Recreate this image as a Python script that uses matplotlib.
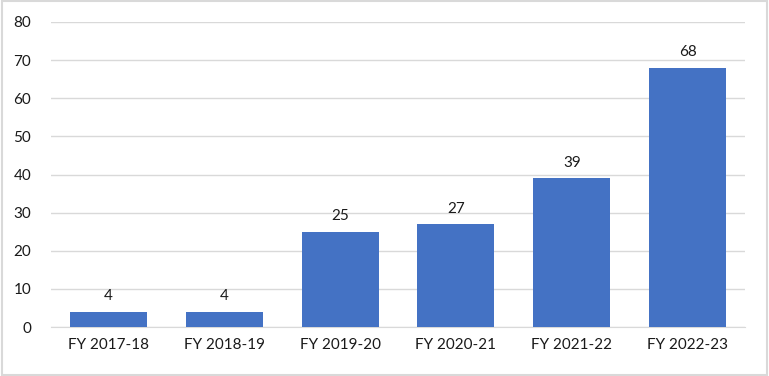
import matplotlib.pyplot as plt
from matplotlib.patches import Rectangle

categories = ["FY 2017-18", "FY 2018-19", "FY 2019-20", "FY 2020-21", "FY 2021-22", "FY 2022-23"]
values = [4, 4, 25, 27, 39, 68]
yticks = [0, 10, 20, 30, 40, 50, 60, 70, 80]

plt.rcParams['font.family'] = ['Lato', 'DejaVu Sans']
txt = '#1a1a1a'
grid = '#D9D9D9'

fig = plt.figure(figsize=(7.69, 3.76), dpi=100)
ax = fig.add_axes([0.0658, 0.130, 0.9036, 0.8115])
x = range(len(categories))
ax.bar(x, values, width=0.665, color='#4472C4', zorder=3)
for i, v in zip(x, values):
    ax.text(i, v + 2.2, str(v), ha='center', va='bottom', fontsize=11, color=txt)

ax.set_ylim(0, 80)
ax.set_xlim(-0.5, len(categories) - 0.5)
ax.set_yticks(yticks)
ax.set_xticks(list(x))
ax.set_xticklabels(categories)
ax.tick_params(axis='both', length=0, labelsize=11, labelcolor=txt)
ax.tick_params(axis='y', pad=14)
ax.tick_params(axis='x', pad=8)
ax.grid(axis='y', color=grid, linewidth=1, zorder=0)
for s in ['top', 'right', 'left']:
    ax.spines[s].set_visible(False)
ax.spines['bottom'].set_color(grid)

fig.patches.append(Rectangle((0.002, 0.003), 0.996, 0.994, transform=fig.transFigure,
                             fill=False, edgecolor=grid, linewidth=1.5))
plt.savefig('out.png', dpi=100)
